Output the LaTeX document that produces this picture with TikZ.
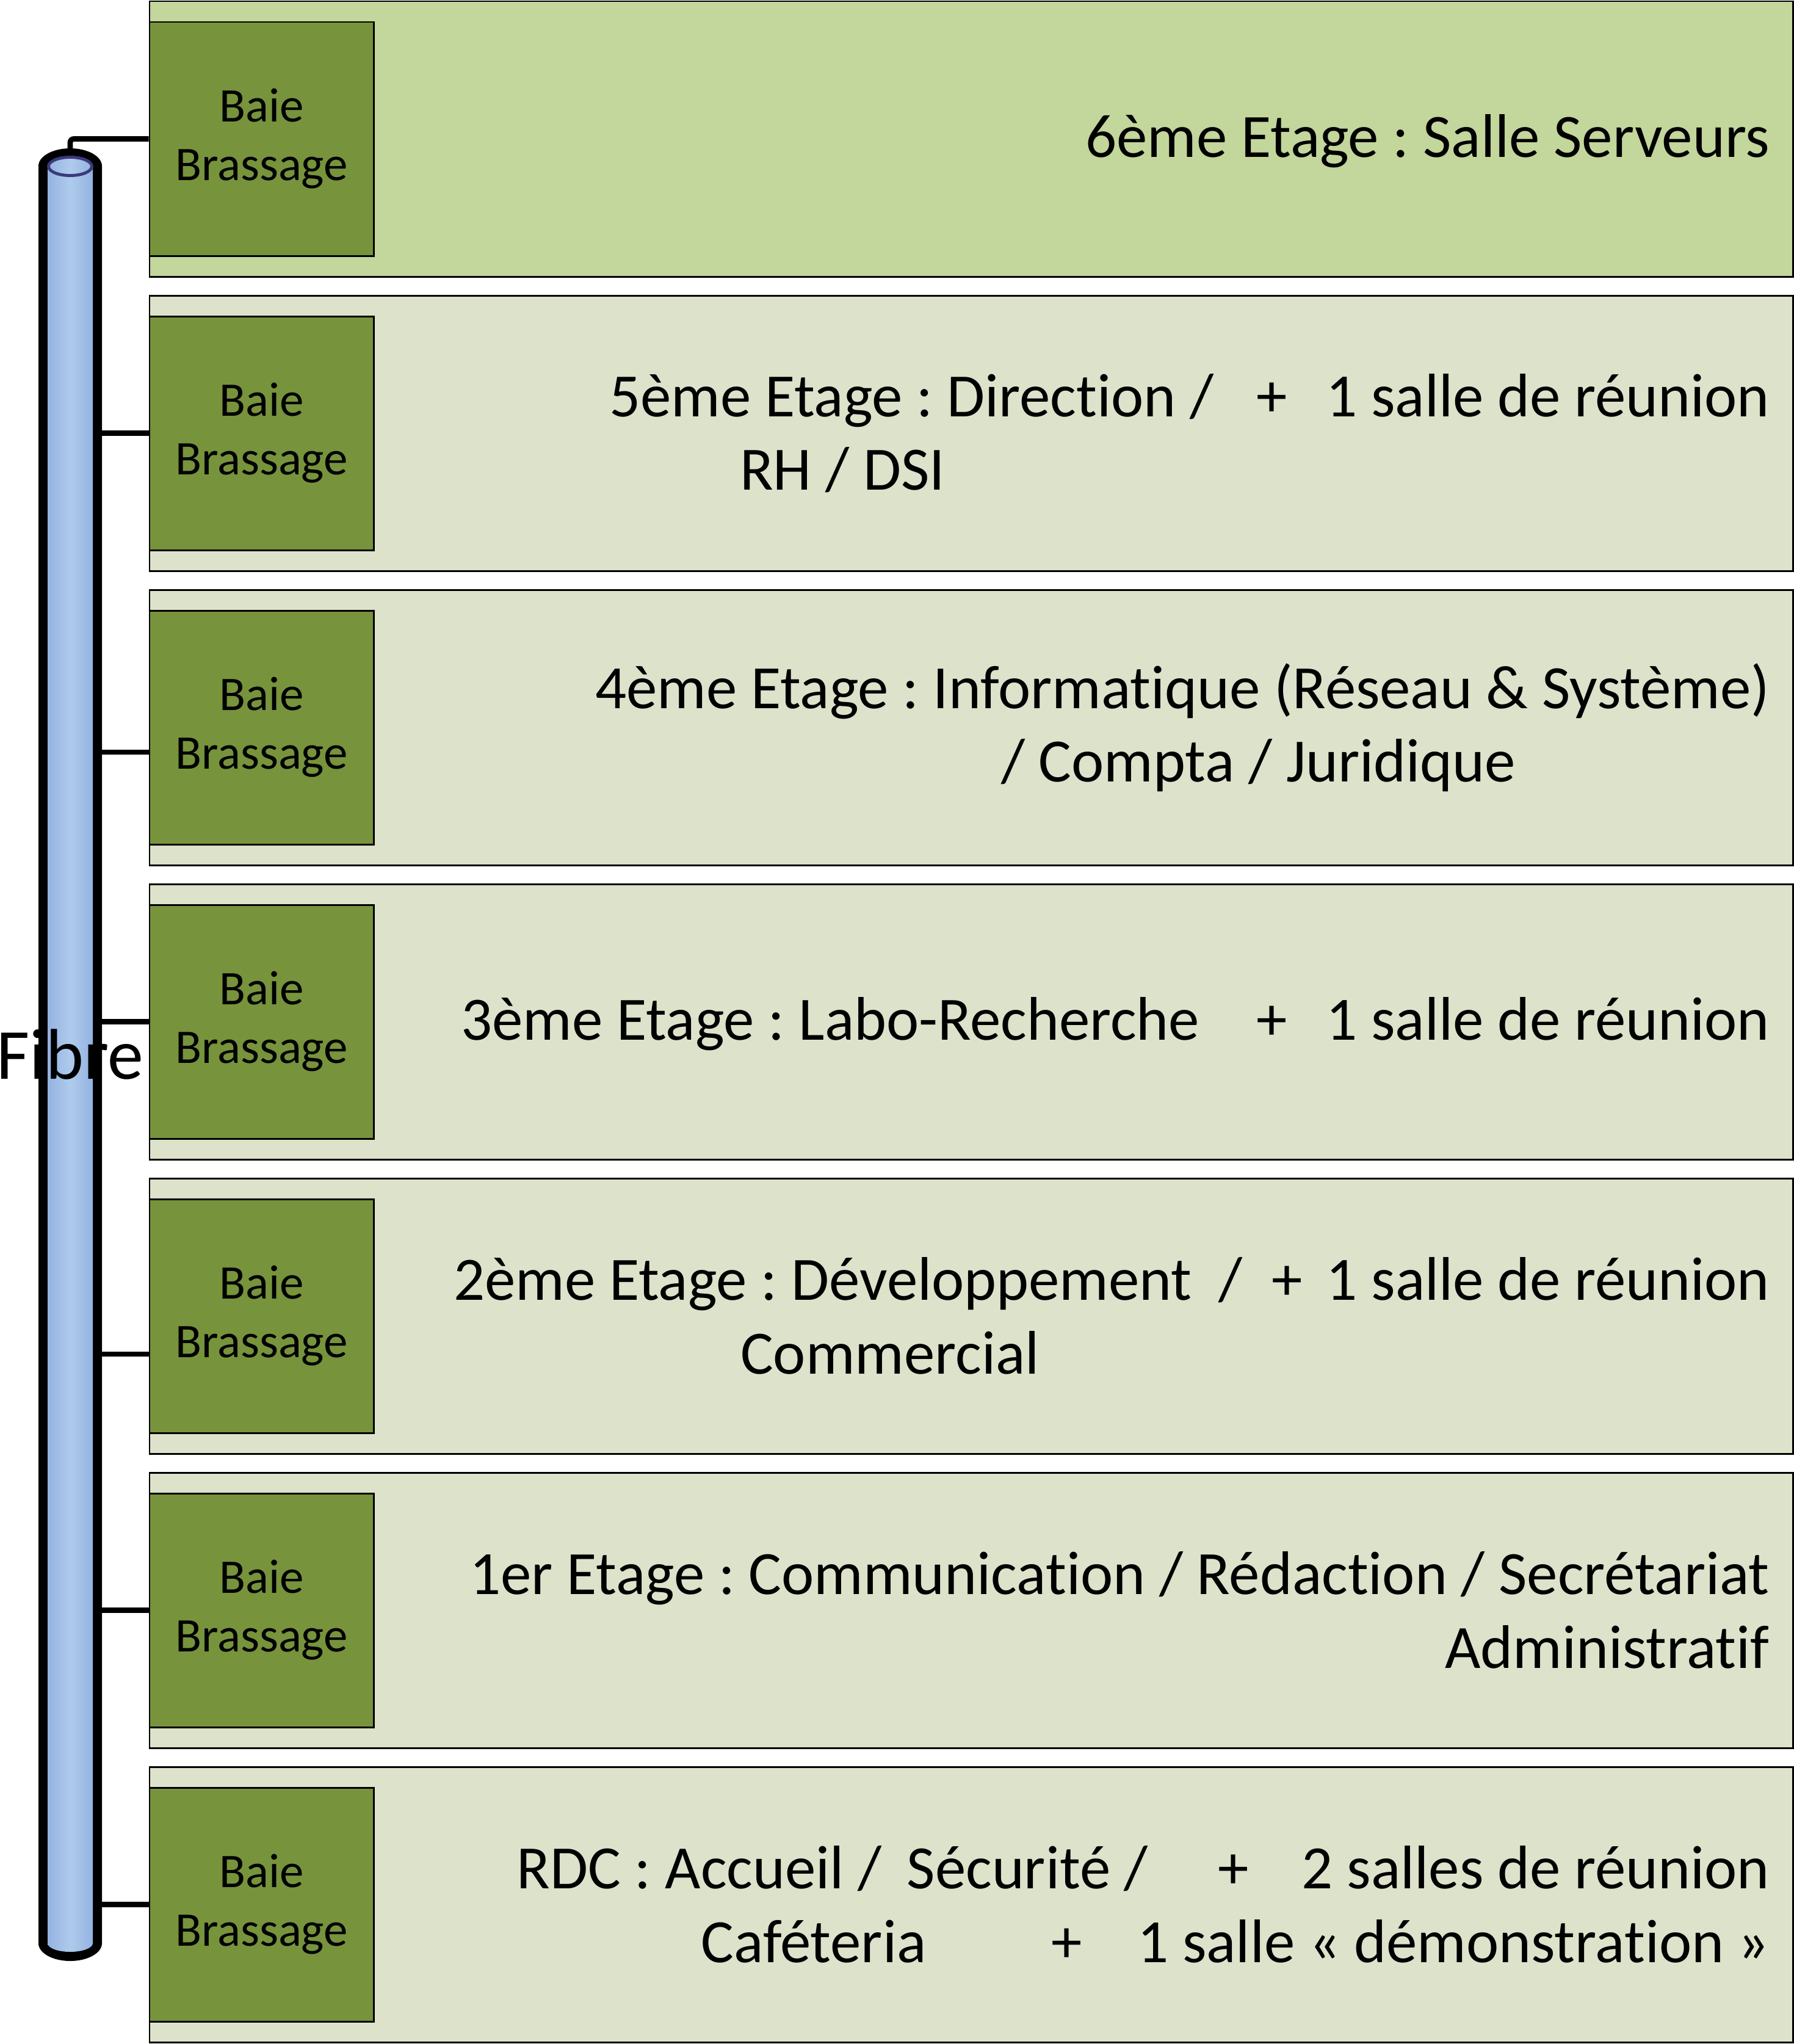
\documentclass[tikz,border=0pt]{standalone}
\usepackage{fontspec}
\setmainfont{Carlito}[Ligatures=CommonOff]
\usetikzlibrary{positioning}
\definecolor{vertclair}{HTML}{C3D69B}
\definecolor{grisvert}{HTML}{DDE2CB}
\definecolor{vertbaie}{HTML}{77933C}
\definecolor{bleufibre}{HTML}{93B3E0}
\definecolor{bleuclair}{HTML}{AFCAEC}
\definecolor{bleunuit}{HTML}{3A3A7C}
\frenchspacing

\begin{document}
\begin{tikzpicture}[
  etage/.style={rectangle, draw, line width=0.85pt, fill=grisvert, inner sep=0pt, minimum width=26.92cm, minimum height=4.51cm},
  baie/.style={rectangle, draw, line width=0.85pt, fill=vertbaie, align=center, inner sep=0pt, minimum width=3.67cm, minimum height=3.83cm, font=\fontsize{22.5pt}{27.3pt}\selectfont},
  txt/.style={anchor=east, align=right, inner sep=0pt, font=\fontsize{28.7pt}{34.3pt}\selectfont},
  cable/.style={line width=2.5pt}
]
  \useasboundingbox (0,0) rectangle (29.39,-33.48);

  \node[etage, fill=vertclair] (e6) at (15.91,-2.275) {};
  \node[etage] (e5) at (15.91,-7.095) {};
  \node[etage] (e4) at (15.91,-11.915) {};
  \node[etage] (e3) at (15.91,-16.735) {};
  \node[etage] (e2) at (15.91,-21.555) {};
  \node[etage] (e1) at (15.91,-26.375) {};
  \node[etage] (e0) at (15.91,-31.195) {};

  \node[baie, anchor=west] (b6) at (e6.west) {Baie\\Brassage};
  \node[baie, anchor=west] (b5) at (e5.west) {Baie\\Brassage};
  \node[baie, anchor=west] (b4) at (e4.west) {Baie\\Brassage};
  \node[baie, anchor=west] (b3) at (e3.west) {Baie\\Brassage};
  \node[baie, anchor=west] (b2) at (e2.west) {Baie\\Brassage};
  \node[baie, anchor=west] (b1) at (e1.west) {Baie\\Brassage};
  \node[baie, anchor=west] (b0) at (e0.west) {Baie\\Brassage};

  \node[txt] (t6) at ([xshift=-0.39cm, yshift=-0.04cm]e6.east) {6ème Etage : Salle Serveurs};
  \node[txt] (t5) at ([xshift=-0.39cm]e5.east) {5ème Etage : Direction /\hspace{0.70em}+\hspace{0.63em}1 salle de réunion\\RH / DSI\hspace*{13.39em}\mbox{}};
  \node[txt] (t4) at ([xshift=-0.39cm]e4.east) {4ème Etage : Informatique (Réseau \& Système)\\/ Compta / Juridique\hspace*{4.12em}\mbox{}};
  \node[txt] (t3) at ([xshift=-0.39cm, yshift=-0.04cm]e3.east) {3ème Etage : Labo-Recherche\hspace{0.93em}+\hspace{0.63em}1 salle de réunion};
  \node[txt] (t2) at ([xshift=-0.39cm]e2.east) {2ème Etage : Développement\hspace{0.44em}/\hspace{0.47em}+\hspace{0.39em}1 salle de réunion\\Commercial\hspace*{11.86em}\mbox{}};
  \node[txt] (t1) at ([xshift=-0.39cm]e1.east) {1er Etage : Communication / Rédaction / Secrétariat\\Administratif};
  \node[txt] (t0) at ([xshift=-0.39cm]e0.east) {RDC : Accueil /\hspace{0.41em}Sécurité /\hspace{1.14em}+\hspace{0.86em}2 salles de réunion\\Caféteria\hspace{2.03em}+\hspace{0.90em}1 salle « démonstration »};

  \fill (0.63,-2.72) -- (0.63,-31.83) arc[start angle=180, end angle=360, x radius=0.52, y radius=0.29] -- (1.67,-2.72) arc[start angle=0, end angle=180, x radius=0.52, y radius=0.29] -- cycle;
  \shade[left color=bleufibre, right color=bleufibre, middle color=bleuclair] (0.78,-2.725) -- (0.78,-31.83) arc[start angle=180, end angle=360, x radius=0.37, y radius=0.14] -- (1.52,-2.725) arc[start angle=0, end angle=180, x radius=0.37, y radius=0.155] -- cycle;
  \draw[bleunuit, line width=1.4pt] (1.15,-2.725) ellipse [x radius=0.355, y radius=0.15];
  \node[inner sep=0pt, font=\fontsize{33.5pt}{40pt}\selectfont] (fibre) at (1.15,-17.275) {Fibre};

  \coordinate (haut) at (1.15,-2.43);
  \coordinate (cote) at (1.67,-17.275);
  \coordinate (c4) at ([yshift=-0.405cm]b4.west);
  \coordinate (c2) at ([yshift=-0.625cm]b2.west);
  \draw[cable, rounded corners=0.06cm] (haut) |- (b6.west);
  \draw[cable] (cote |- b5.west) -- (b5.west);
  \draw[cable] (cote |- c4) -- (c4);
  \draw[cable] (cote |- b3.west) -- (b3.west);
  \draw[cable] (cote |- c2) -- (c2);
  \draw[cable] (cote |- b1.west) -- (b1.west);
  \draw[cable] (cote |- b0.west) -- (b0.west);
\end{tikzpicture}
\end{document}
